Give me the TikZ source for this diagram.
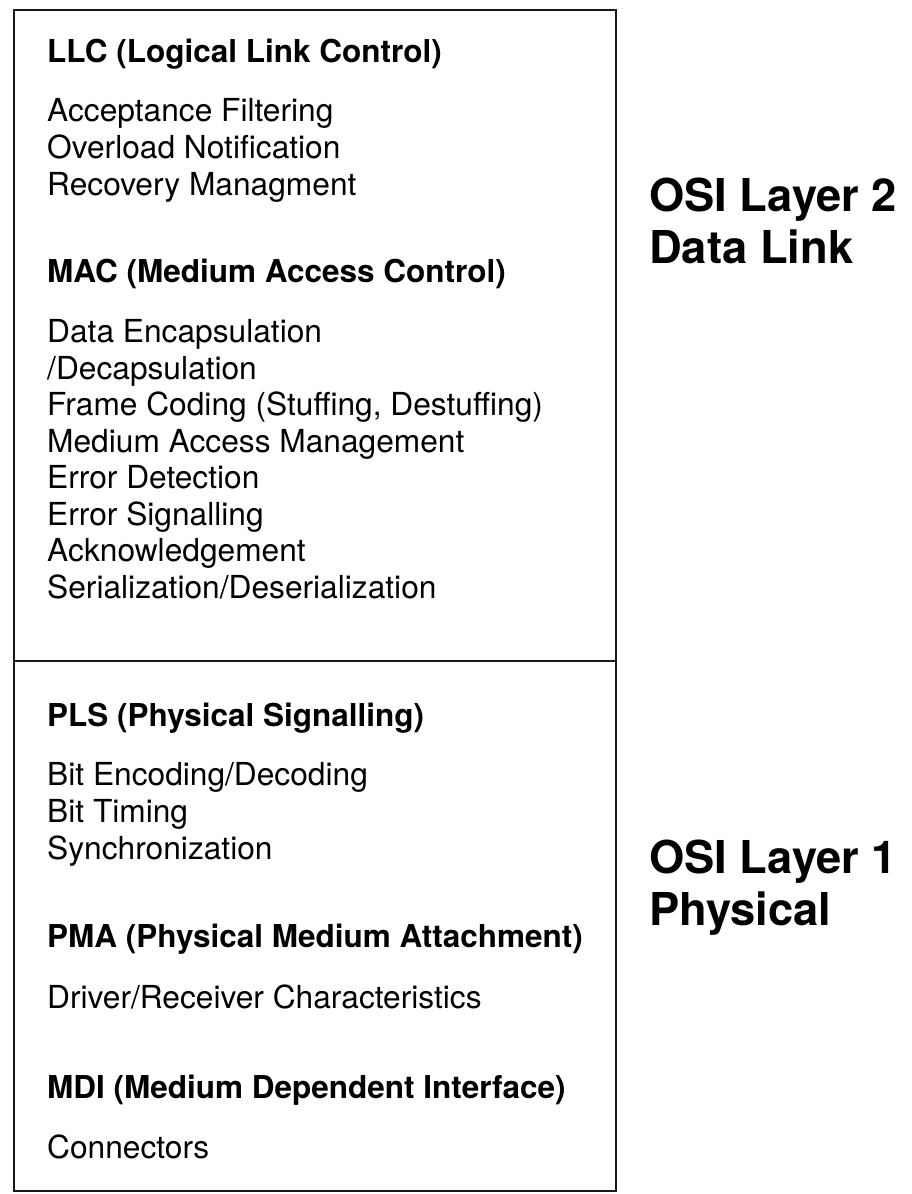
\documentclass[tikz,border=0pt]{standalone}
\usepackage{fontspec}
\setmainfont{TeX Gyre Heros}
\begin{document}
\begin{tikzpicture}[x=1bp,y=-1bp,
  frame/.style={draw=black!90,line width=2.6bp},
  head/.style={anchor=base west,inner sep=0pt,font=\fontsize{31.5bp}{37bp}\selectfont\bfseries},
  item/.style={anchor=base west,inner sep=0pt,font=\fontsize{31.7bp}{37bp}\selectfont},
  layer/.style={anchor=base west,inner sep=0pt,font=\fontsize{45.3bp}{53bp}\selectfont\bfseries}]
\useasboundingbox (0,0) rectangle (912,1194);
% outer frame and the split between the two layers
\draw[frame] (14,10) rectangle (616,1191);
\coordinate (divL) at (14,661);
\coordinate (divR) at (616,661);
\draw[frame] (divL) -- (divR);
% data link sublayers
\node[head] (llc) at (47,62) {LLC (Logical Link Control)};
\node[item] (llc1) at (47,121) {Acceptance Filtering};
\node[item] (llc2) at (47,158) {Overload Notification};
\node[item] (llc3) at (47,195) {Recovery Managment};
\node[head] (mac) at (47,282) {MAC (Medium Access Control)};
\node[item] (mac1) at (47,342) {Data Encapsulation};
\node[item] (mac2) at (47,379) {/Decapsulation};
\node[item] (mac3) at (47,415) {Frame Coding (Stuffing, Destuffing)};
\node[item] (mac4) at (47,452) {Medium Access Management};
\node[item] (mac5) at (47,488) {Error Detection};
\node[item] (mac6) at (47,525) {Error Signalling};
\node[item] (mac7) at (47,561) {Acknowledgement};
\node[item] (mac8) at (47,598) {Serialization/Deserialization};
% physical sublayers
\node[head] (pls) at (47,726) {PLS (Physical Signalling)};
\node[item] (pls1) at (47,785) {Bit Encoding/Decoding};
\node[item] (pls2) at (47,822) {Bit Timing};
\node[item] (pls3) at (47,859) {Synchronization};
\node[head] (pma) at (47,947) {PMA (Physical Medium Attachment)};
\node[item] (pma1) at (47,1008) {Driver/Receiver Characteristics};
\node[head] (mdi) at (47,1098) {MDI (Medium Dependent Interface)};
\node[item] (mdi1) at (47,1158) {Connectors};
% layer captions
\node[layer] (osi2a) at (649,211) {OSI Layer 2};
\node[layer] (osi2b) at (649,263) {Data Link};
\node[layer] (osi1a) at (649,873) {OSI Layer 1};
\node[layer] (osi1b) at (649,925) {Physical};
\end{tikzpicture}
\end{document}
